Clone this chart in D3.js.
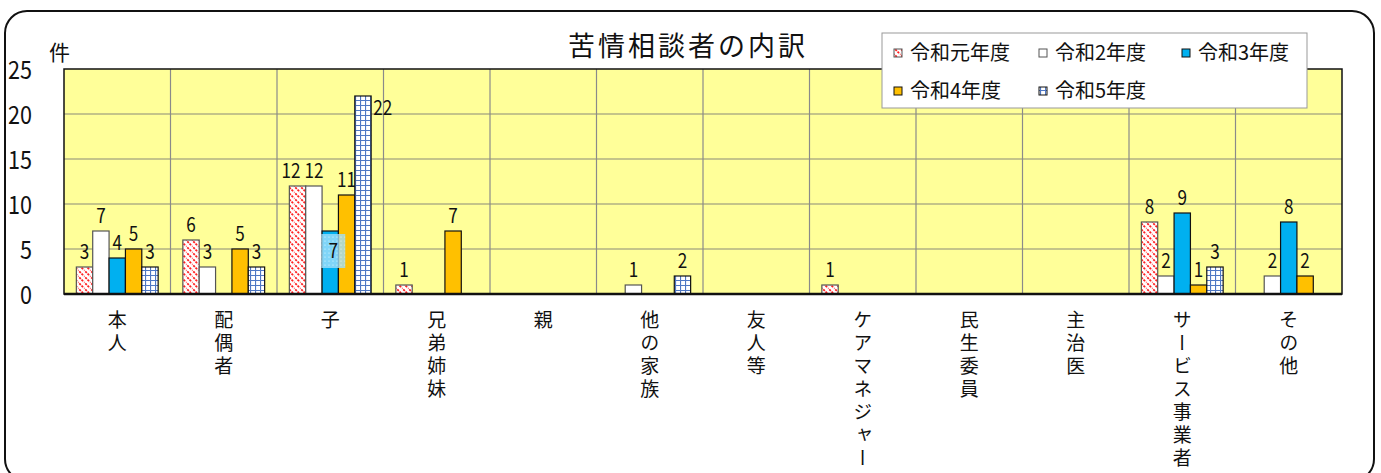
<!DOCTYPE html>
<html><head><meta charset="utf-8">
<script src="https://cdn.jsdelivr.net/npm/d3@7"></script>
<style>
html,body{margin:0;padding:0;background:#fff;}
svg{display:block;}
text{font-family:"Noto Sans CJK JP","Noto Sans",sans-serif;fill:#111;}
</style></head>
<body>
<svg id="chart" width="1381" height="473"></svg>
<script>
const categories = ["本人","配偶者","子","兄弟姉妹","親","他の家族","友人等","ケアマネジャー","民生委員","主治医","サービス事業者","その他"];
const seriesNames = ["令和元年度","令和2年度","令和3年度","令和4年度","令和5年度"];
const valuesR1 = [3,6,12,1,0,0,0,1,0,0,8,0];
const valuesR2 = [7,3,12,0,0,1,0,0,0,0,2,2];
const valuesR3 = [4,0,7,0,0,0,0,0,0,0,9,8];
const valuesR4 = [5,5,11,7,0,0,0,0,0,0,1,2];
const valuesR5 = [3,3,22,0,0,2,0,0,0,0,3,0];
const yTickValues = [0,5,10,15,20,25];
const titleText = "苦情相談者の内訳";
const unitText = "件";

const seriesValues = [valuesR1,valuesR2,valuesR3,valuesR4,valuesR5];

const svg = d3.select("#chart");
const defs = svg.append("defs");

// patterns
const hatch = defs.append("pattern").attr("id","hatchRed").attr("patternUnits","userSpaceOnUse")
  .attr("width",6).attr("height",6);
hatch.append("rect").attr("width",6).attr("height",6).attr("fill","#fff");
hatch.append("path").attr("d","M-1,-1 L7,7 M-4,2 L2,8 M4,-2 L8,2")
  .attr("stroke","#ff2020").attr("stroke-width",1.8).attr("stroke-dasharray","2.2,1");

const grid = defs.append("pattern").attr("id","gridBlue").attr("patternUnits","userSpaceOnUse")
  .attr("width",5).attr("height",5).attr("x",0).attr("y",0);
grid.append("rect").attr("width",5).attr("height",5).attr("fill","#fff");
grid.append("path").attr("d","M0,0.5 H5 M0.5,0 V5").attr("stroke","#4f78c4").attr("stroke-width",1.2);

const dotsP = defs.append("pattern").attr("id","dotsLabel").attr("patternUnits","userSpaceOnUse")
  .attr("width",4).attr("height",4);
dotsP.append("rect").attr("width",4).attr("height",4).attr("fill","rgba(160,222,250,0.8)");
dotsP.append("circle").attr("cx",1).attr("cy",1).attr("r",0.6).attr("fill","rgba(255,255,255,0.8)");

const fills = ["url(#hatchRed)","#ffffff","#00b0f0","#ffc000","url(#gridBlue)"];
const strokes = ["#555","#555","#111","#111","#111"];

// outer frame
svg.append("rect").attr("x",5).attr("y",11).attr("width",1369).attr("height",470)
  .attr("rx",22).attr("ry",22).attr("fill","#fff").attr("stroke","#111").attr("stroke-width",2);

const plot = {left:64,right:1342,top:69,bottom:294};

const x = d3.scaleBand().domain(categories).range([plot.left,plot.right]).padding(0);
const bw = x.bandwidth();
const xs = d3.scaleBand().domain(seriesNames).range([bw*0.116,bw*0.884]).padding(0);
const y = d3.scaleLinear().domain([0,25]).range([plot.bottom,plot.top]);

// plot background
svg.append("rect").attr("x",plot.left).attr("y",plot.top).attr("width",plot.right-plot.left)
  .attr("height",plot.bottom-plot.top).attr("fill","#ffff99");

// horizontal gridlines
svg.append("g").selectAll("line").data(yTickValues.filter(v=>v>0 && v<25)).join("line")
  .attr("x1",plot.left).attr("x2",plot.right).attr("y1",d=>y(d)).attr("y2",d=>y(d))
  .attr("stroke","#8a8a7a").attr("stroke-width",1.2);
// vertical gridlines
svg.append("g").selectAll("line").data(categories.slice(1)).join("line")
  .attr("x1",d=>x(d)).attr("x2",d=>x(d)).attr("y1",plot.top).attr("y2",plot.bottom)
  .attr("stroke","#8a8a8a").attr("stroke-width",1.2);

// bars
const barData = [];
categories.forEach((c,ci)=>{
  seriesNames.forEach((s,si)=>{
    barData.push({cat:c,ser:s,si:si,v:seriesValues[si][ci]});
  });
});
svg.append("g").selectAll("rect").data(barData.filter(d=>d.v>0)).join("rect")
  .attr("x",d=>x(d.cat)+xs(d.ser)).attr("width",xs.bandwidth())
  .attr("y",d=>y(d.v)).attr("height",d=>y(0)-y(d.v))
  .attr("fill",d=>fills[d.si]).attr("stroke",d=>strokes[d.si]).attr("stroke-width",1.2);

// plot frame
svg.append("rect").attr("x",plot.left).attr("y",plot.top).attr("width",plot.right-plot.left)
  .attr("height",plot.bottom-plot.top).attr("fill","none").attr("stroke","#111").attr("stroke-width",1.5);
svg.append("line").attr("x1",plot.left).attr("x2",plot.right).attr("y1",plot.bottom).attr("y2",plot.bottom)
  .attr("stroke","#111").attr("stroke-width",2.5);

// data labels (with simple left-shift collision avoidance)
const maxV = d3.max(barData,d=>d.v);
const labG = svg.append("g");
categories.forEach(c=>{
  const items = barData.filter(d=>d.cat===c && d.v>0).map(d=>{
    const cx = x(d.cat)+xs(d.ser)+xs.bandwidth()/2;
    const txt = String(d.v);
    return {d, txt, w: txt.length*9.5, cx, ly: y(d.v)-8};
  });
  for (let i=items.length-2;i>=0;i--) {
    const a = items[i], b = items[i+1];
    if (a.d.v===maxV || b.d.v===maxV) continue;
    if (Math.abs(a.ly-b.ly) < 17) {
      const ov = (a.cx+a.w/2) - (b.cx-b.w/2) + 4;
      if (ov>0) a.cx -= ov;
    }
  }
  items.forEach(it=>{
    const d = it.d;
    if (d.v===maxV) {
      labG.append("text").attr("x",x(d.cat)+xs(d.ser)+xs.bandwidth()+2).attr("y",y(d.v)+19)
        .attr("font-size",20).attr("textLength",it.w).attr("lengthAdjust","spacingAndGlyphs").text(it.txt);
    } else if (d.cat==="子" && d.si===2) {
      const bx = it.cx+3;
      labG.append("rect").attr("x",bx-12).attr("y",y(d.v)+3).attr("width",24).attr("height",34)
        .attr("fill","url(#dotsLabel)");
      labG.append("text").attr("x",bx).attr("y",y(d.v)+27).attr("text-anchor","middle")
        .attr("font-size",20).attr("textLength",it.w).attr("lengthAdjust","spacingAndGlyphs").text(it.txt);
    } else {
      labG.append("text").attr("x",it.cx).attr("y",it.ly).attr("text-anchor","middle")
        .attr("font-size",20).attr("textLength",it.w).attr("lengthAdjust","spacingAndGlyphs").text(it.txt);
    }
  });
});

// y axis
const yAxis = svg.append("g").attr("transform",`translate(${plot.left},0)`)
  .call(d3.axisLeft(y).tickValues(yTickValues).tickSize(0).tickPadding(32));
yAxis.select(".domain").remove();
yAxis.selectAll("text").attr("font-size",25).attr("font-family",null).style("font-family",'"Noto Sans CJK JP",sans-serif')
  .attr("fill","#111").attr("dy","0.36em")
  .attr("textLength",d=>String(d).length*12).attr("lengthAdjust","spacingAndGlyphs");

// x axis (vertical category labels)
const xAxis = svg.append("g").attr("transform",`translate(0,${plot.bottom})`)
  .call(d3.axisBottom(x).tickSize(0));
xAxis.select(".domain").remove();
xAxis.selectAll("text").attr("y",16).attr("dy",null).attr("font-size",19)
  .attr("font-family",null).style("font-family",'"Noto Sans CJK JP",sans-serif')
  .attr("fill","#111").attr("text-anchor","start")
  .style("writing-mode","vertical-rl").style("letter-spacing","4px");

// unit label
svg.append("text").attr("x",49).attr("y",60).attr("font-size",21).text(unitText);

// title
svg.append("text").attr("x",688).attr("y",56).attr("text-anchor","middle")
  .attr("font-size",27).style("letter-spacing","3px").text(titleText);

// legend
const lg = svg.append("g");
lg.append("rect").attr("x",882).attr("y",33).attr("width",425).attr("height",75)
  .attr("fill","#fff").attr("stroke","#999").attr("stroke-width",1);
const legPos = [[898,53],[1043,53],[1186,53],[898,91],[1043,91]];
seriesNames.forEach((s,i)=>{
  const [lx,ly] = legPos[i];
  lg.append("rect").attr("x",lx-4).attr("y",ly-4).attr("width",8).attr("height",8)
    .attr("fill",fills[i]).attr("stroke",strokes[i]).attr("stroke-width",1);
  lg.append("text").attr("x",lx+12).attr("y",ly+7).attr("font-size",20).text(s);
});
</script>
</body></html>
